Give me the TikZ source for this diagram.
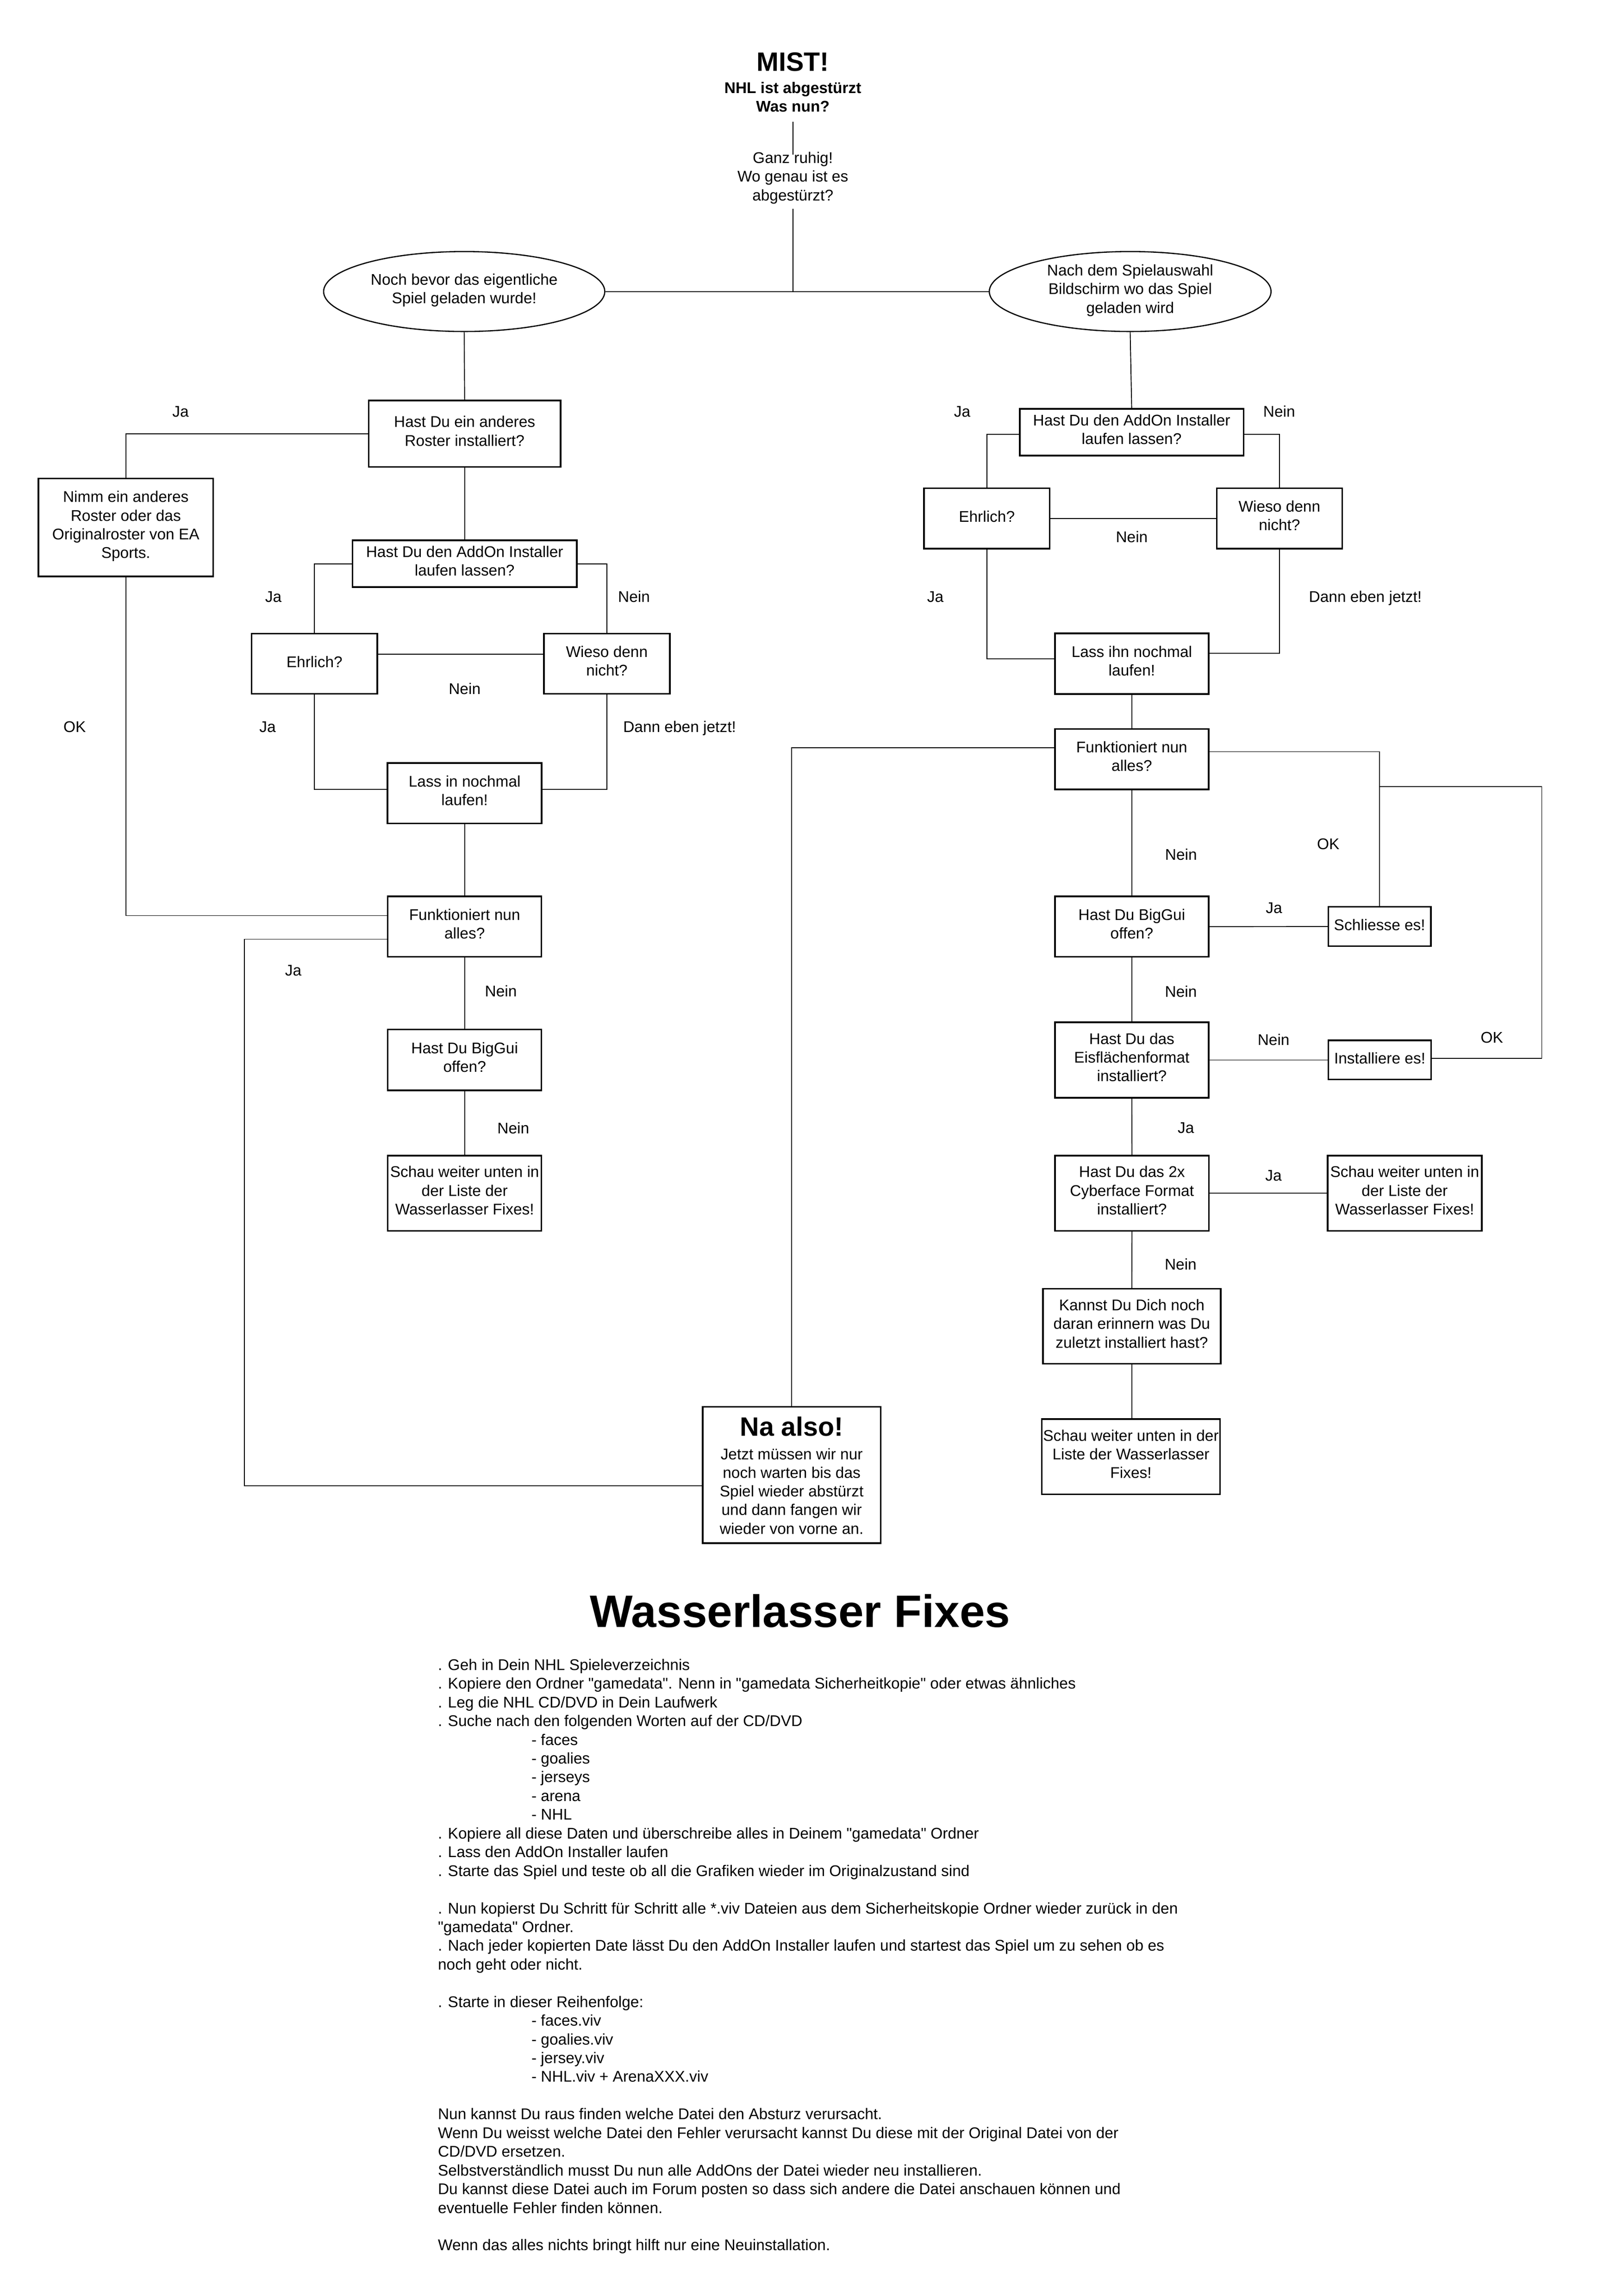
\documentclass[tikz,border=0pt]{standalone}
\usepackage{fontspec}
\setmainfont{Liberation Sans}
\newfontfamily\qfont{Liberation Sans}
\newcommand\qq{{\qfont"}}
\usetikzlibrary{shapes.geometric}
\begin{document}
\begin{tikzpicture}[x=1pt,y=-1pt,
  every node/.style={font=\fontsize{10.5}{12.65}\selectfont},
  box/.style={draw, line width=1.1pt, rectangle, inner sep=0pt, align=center,
    execute at begin node=\strut, execute at end node=\strut},
  inbox/.style={inner sep=0pt, align=center,
    execute at begin node=\strut, execute at end node=\strut},
  ell/.style={draw, line width=0.8pt, ellipse, inner sep=0pt, align=center,
    execute at begin node=\strut, execute at end node=\strut},
  conn/.style={line width=0.6pt},
  lbl/.style={inner sep=0pt, text height=7.5pt, text depth=0pt},
  fx/.style={anchor=base west, inner sep=0pt},
  bigbold/.style={font=\fontsize{18}{21}\selectfont\bfseries, inner sep=0pt, anchor=base}
]
\useasboundingbox (0,0) rectangle (1100,1556.3);
\fill[white] (0,0) rectangle (1100,1556.3);

% --- top ---
\node[bigbold] (mist) at (537.5,48.3) {MIST!};
\node[inbox, font=\fontsize{10.5}{12.6}\selectfont\bfseries] (nhl) at (537.5,67.5) {NHL ist abgestürzt\\Was nun?};
\node[inbox] (ganz) at (537.5,121.4) {Ganz ruhig!\\Wo genau ist es\\abgestürzt?};

\node[ell, minimum width=190.6pt, minimum height=54.2pt] (ellL) at (314.7,197.6) {Noch bevor das eigentliche\\Spiel geladen wurde!};
\node[ell, minimum width=191pt, minimum height=54.2pt] (ellR) at (766.2,197.6) {Nach dem Spielauswahl\\Bildschirm wo das Spiel\\geladen wird};

% --- left column ---
\node[box, minimum width=130pt, minimum height=45pt] (roster) at (315,294) {Hast Du ein anderes\\Roster installiert?};
\node[box, minimum width=118.5pt, minimum height=66.4pt] (nimm) at (85.3,357.5) {Nimm ein anderes\\Roster oder das\\Originalroster von EA\\Sports.};
\node[box, minimum width=152pt, minimum height=31.8pt] (addL) at (315,382.1) {Hast Du den AddOn Installer\\laufen lassen?};
\node[box, minimum width=85.3pt, minimum height=40.8pt] (ehrL) at (213.2,449.8) {Ehrlich?};
\node[box, minimum width=85.3pt, minimum height=40.8pt] (wieL) at (411.4,449.8) {Wieso denn\\nicht?};
\node[box, minimum width=104.5pt, minimum height=41pt] (lassL) at (315,537.7) {Lass in nochmal\\laufen!};
\node[box, minimum width=104.2pt, minimum height=41pt] (funL) at (315,628) {Funktioniert nun\\alles?};
\node[box, minimum width=104.2pt, minimum height=41.3pt] (bigL) at (315,718.4) {Hast Du BigGui\\offen?};
\node[box, minimum width=104.2pt, minimum height=51.1pt] (schauL) at (315,808.8) {Schau weiter unten in\\der Liste der\\Wasserlasser Fixes!};

% --- right column ---
\node[box, minimum width=151.7pt, minimum height=31.7pt] (addR) at (767.2,293) {Hast Du den AddOn Installer\\laufen lassen?};
\node[box, minimum width=85.3pt, minimum height=41pt] (ehrR) at (669,351.4) {Ehrlich?};
\node[box, minimum width=85.1pt, minimum height=41pt] (wieR) at (867.4,351.4) {Wieso denn\\nicht?};
\node[box, minimum width=104.1pt, minimum height=41.1pt] (lassR) at (767.3,449.8) {Lass ihn nochmal\\laufen!};
\node[box, minimum width=104.1pt, minimum height=40.9pt] (funR) at (767.3,514.6) {Funktioniert nun\\alles?};
\node[box, minimum width=104.1pt, minimum height=40.9pt] (bigR) at (767.3,628.1) {Hast Du BigGui\\offen?};
\node[box, minimum width=69.5pt, minimum height=26.7pt] (schl) at (935.3,628) {Schliesse es!};
\node[box, minimum width=104.3pt, minimum height=51.1pt] (eis) at (767.3,718.5) {Hast Du das\\Eisflächenformat\\installiert?};
\node[box, minimum width=69.6pt, minimum height=26.5pt] (inst) at (935.4,718.5) {Installiere es!};
\node[box, minimum width=104.3pt, minimum height=50.9pt] (cyb) at (767.4,808.8) {Hast Du das 2x\\Cyberface Format\\installiert?};
\node[box, minimum width=104.5pt, minimum height=50.9pt] (schauR1) at (952.3,808.8) {Schau weiter unten in\\der Liste der\\Wasserlasser Fixes!};
\node[box, minimum width=120.6pt, minimum height=50.9pt] (kann) at (767.3,899) {Kannst Du Dich noch\\daran erinnern was Du\\zuletzt installiert hast?};
\node[box, minimum width=120.8pt, minimum height=50.9pt] (schauR2) at (766.7,987.4) {Schau weiter unten in der\\Liste der Wasserlasser\\Fixes!};

% --- Na also ---
\node[box, minimum width=120.6pt, minimum height=92.5pt] (naalso) at (536.7,999.8) {};
\node[bigbold] (natitle) at (536.7,973.4) {Na also!};
\node[inbox] (natext) at (536.7,1012.6) {Jetzt müssen wir nur\\noch warten bis das\\Spiel wieder abstürzt\\und dann fangen wir\\wieder von vorne an.};

% --- connectors top ---
\draw[conn] ([yshift=-2.8pt]nhl.south) -- ([yshift=-1.9pt]ganz.north);
\draw[conn] (ellL.east) -- (ellR.west);
\draw[conn] ([yshift=-1.7pt]ganz.south) -- (ganz.south |- ellL.east);

% --- connectors left ---
\draw[conn] (ellL.south) -- (roster.north);
\draw[conn] (roster.west) -| (nimm.north);
\draw[conn] (roster.south) -- (addL.north);
\draw[conn] (addL.west) -| (ehrL.north);
\draw[conn] (addL.east) -| (wieL.north);
\draw[conn] ([yshift=6.5pt]ehrL.east) -- ([yshift=6.5pt]wieL.west);
\draw[conn] (ehrL.south) |- ([yshift=2.6pt]lassL.west);
\draw[conn] (wieL.south) |- ([yshift=2.6pt]lassL.east);
\draw[conn] (lassL.south) -- (funL.north);
\draw[conn] (nimm.south) |- ([yshift=7.4pt]funL.west);
\coordinate (cjL) at (165.7,1007.1);
\draw[conn] ([yshift=-8.6pt]funL.west) -| (cjL) -- (cjL -| naalso.west);
\draw[conn] (funL.south) -- (bigL.north);
\draw[conn] (bigL.south) -- (schauL.north);

% --- connectors right ---
\draw[conn] (ellR.south) -- (addR.north);
\draw[conn] ([yshift=-1.4pt]addR.west) -| (ehrR.north);
\draw[conn] ([yshift=-1.4pt]addR.east) -| (wieR.north);
\draw[conn] (ehrR.east) -- (wieR.west);
\draw[conn] (ehrR.south) |- ([yshift=3.3pt]lassR.west);
\draw[conn] (wieR.south) |- ([yshift=7.1pt]lassR.east);
\draw[conn] (lassR.south) -- (funR.north);
\draw[conn] ([yshift=7.8pt]funR.west) -| (naalso.north);
\draw[conn] ([yshift=5.1pt]funR.east) -| (schl.north);
\coordinate (okc) at (1045.2,533.1);
\draw[conn] ([yshift=1.2pt]inst.east) -| (okc) -- (okc -| schl.north);
\draw[conn] (funR.south) -- (bigR.north);
\draw[conn] (bigR.east) -- (schl.west);
\draw[conn] (bigR.south) -- (eis.north);
\draw[conn] (eis.east) -- (inst.west);
\draw[conn] (eis.south) -- (cyb.north);
\draw[conn] (cyb.east) -- (schauR1.west);
\draw[conn] (cyb.south) -- (kann.north);
\draw[conn] (kann.south) -- (kann.south |- schauR2.north);

% --- labels left ---
\node[lbl] (lJa1) at (122.4,279) {Ja};
\node[lbl] (lOK1) at (50.6,492.6) {OK};
\node[lbl] (lJa2) at (185.3,404.3) {Ja};
\node[lbl] (lNein1) at (429.8,404.3) {Nein};
\node[lbl] (lNein2) at (315,466.7) {Nein};
\node[lbl] (lJa3) at (181.4,492.6) {Ja};
\node[lbl, anchor=west] (lDann) at (422.3,492.6) {Dann eben jetzt!};
\node[lbl] (lJa4) at (198.8,657.5) {Ja};
\node[lbl] (lNein3) at (339.6,671.9) {Nein};
\node[lbl] (lNein4) at (348,764.7) {Nein};

% --- labels right ---
\node[lbl] (rJa1) at (652.3,279) {Ja};
\node[lbl] (rNein1) at (867.2,279) {Nein};
\node[lbl] (rNein2) at (767.3,363.8) {Nein};
\node[lbl] (rJa2) at (634.1,404.4) {Ja};
\node[lbl, anchor=west] (rDann) at (887.2,404.4) {Dann eben jetzt!};
\node[lbl] (rNein3) at (800.7,579.2) {Nein};
\node[lbl] (rOK1) at (900.5,572) {OK};
\node[lbl] (rJa3) at (863.7,615.2) {Ja};
\node[lbl] (rNein4) at (800.6,672) {Nein};
\node[lbl] (rNein5) at (863.4,704.8) {Nein};
\node[lbl] (rOK2) at (1011.4,703.1) {OK};
\node[lbl] (rJa4) at (804,764.4) {Ja};
\node[lbl] (rJa5) at (863.4,796.8) {Ja};
\node[lbl] (rNein6) at (800.4,856.8) {Nein};

% --- Wasserlasser Fixes ---
\node[font=\fontsize{30.8}{36}\selectfont\bfseries, anchor=base, inner sep=0pt] (wtitle) at (542.5,1103) {Wasserlasser Fixes};
\node[fx] (f0) at (296.7,1132.1) {. Geh in Dein NHL Spieleverzeichnis};
\node[fx] (f1) at (296.7,1144.79) {. Kopiere den Ordner \qq gamedata\qq. Nenn in \qq gamedata Sicherheitkopie\qq{} oder etwas ähnliches};
\node[fx] (f2) at (296.7,1157.48) {. Leg die NHL CD/DVD in Dein Laufwerk};
\node[fx] (f3) at (296.7,1170.17) {. Suche nach den folgenden Worten auf der CD/DVD};
\node[fx] (f4) at (360.1,1182.86) {- faces};
\node[fx] (f5) at (360.1,1195.55) {- goalies};
\node[fx] (f6) at (360.1,1208.24) {- jerseys};
\node[fx] (f7) at (360.1,1220.93) {- arena};
\node[fx] (f8) at (360.1,1233.62) {- NHL};
\node[fx] (f9) at (296.7,1246.31) {. Kopiere all diese Daten und überschreibe alles in Deinem \qq gamedata\qq{} Ordner};
\node[fx] (f10) at (296.7,1259.0) {. Lass den AddOn Installer laufen};
\node[fx] (f11) at (296.7,1271.69) {. Starte das Spiel und teste ob all die Grafiken wieder im Originalzustand sind};
\node[fx] (f13) at (296.7,1297.07) {. Nun kopierst Du Schritt für Schritt alle *.viv Dateien aus dem Sicherheitskopie Ordner wieder zurück in den};
\node[fx] (f14) at (296.7,1309.76) {\qq gamedata\qq{} Ordner.};
\node[fx] (f15) at (296.7,1322.45) {. Nach jeder kopierten Date lässt Du den AddOn Installer laufen und startest das Spiel um zu sehen ob es};
\node[fx] (f16) at (296.7,1335.14) {noch geht oder nicht.};
\node[fx] (f18) at (296.7,1360.52) {. Starte in dieser Reihenfolge:};
\node[fx] (f19) at (360.1,1373.21) {- faces.viv};
\node[fx] (f20) at (360.1,1385.9) {- goalies.viv};
\node[fx] (f21) at (360.1,1398.59) {- jersey.viv};
\node[fx] (f22) at (360.1,1411.28) {- NHL.viv + ArenaXXX.viv};
\node[fx] (f24) at (296.7,1436.66) {Nun kannst Du raus finden welche Datei den Absturz verursacht.};
\node[fx] (f25) at (296.7,1449.35) {Wenn Du weisst welche Datei den Fehler verursacht kannst Du diese mit der Original Datei von der};
\node[fx] (f26) at (296.7,1462.04) {CD/DVD ersetzen.};
\node[fx] (f27) at (296.7,1474.73) {Selbstverständlich musst Du nun alle AddOns der Datei wieder neu installieren.};
\node[fx] (f28) at (296.7,1487.42) {Du kannst diese Datei auch im Forum posten so dass sich andere die Datei anschauen können und};
\node[fx] (f29) at (296.7,1500.11) {eventuelle Fehler finden können.};
\node[fx] (f31) at (296.7,1525.49) {Wenn das alles nichts bringt hilft nur eine Neuinstallation.};
\end{tikzpicture}
\end{document}
